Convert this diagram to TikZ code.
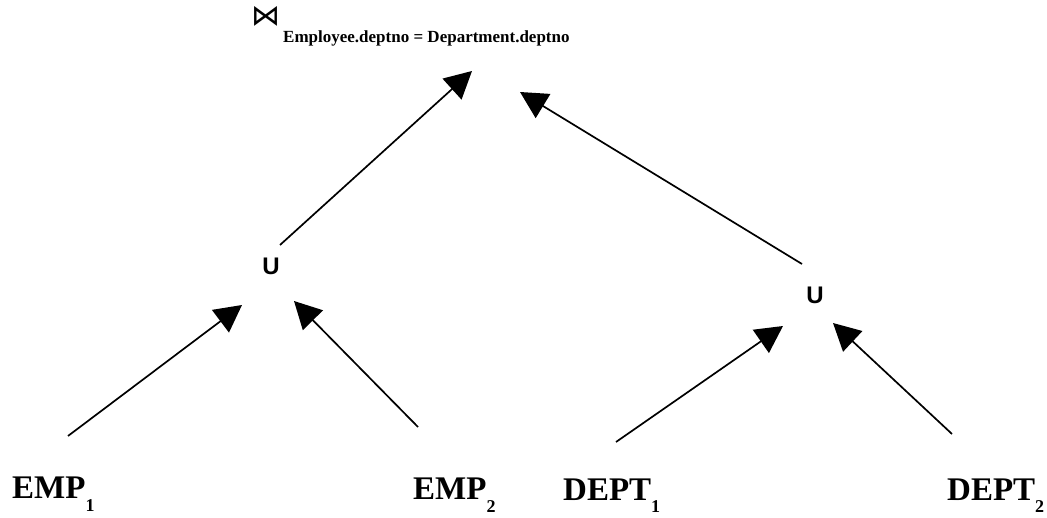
\documentclass[tikz,border=0pt]{standalone}
\usepackage{fontspec}
\setmainfont{Liberation Serif}
\newfontfamily\symfont{DejaVu Sans}
\newfontfamily\opfont{Liberation Sans}
\usetikzlibrary{arrows.meta}
\begin{document}
\begin{tikzpicture}[x=1pt,y=-1pt,
  leaf/.style={inner sep=0pt,anchor=base west,font=\fontsize{33}{33}\selectfont\bfseries},
  unionop/.style={inner sep=0pt,font=\opfont\fontsize{24}{24}\selectfont\bfseries},
  edge/.style={line width=1.7pt,-{Triangle[length=27pt,width=28pt]}}]
\useasboundingbox (0,0) rectangle (1047,518);
\newcommand{\lowidx}[1]{\raisebox{-13pt}{\fontsize{18}{18}\selectfont #1}}

% join operator and its condition
\node[inner sep=0pt,anchor=base west,font=\symfont\fontsize{29}{29}\selectfont] (join) at (251,26) {⋈};
\node[inner sep=0pt,anchor=base west,font=\fontsize{17}{17}\selectfont\bfseries] (cond) at (283,43) {Employee.deptno = Department.deptno};

% union operators
\node[unionop] (u1) at (271,266.5) {U};
\node[unionop] (u2) at (815,295) {U};

% fragments
\node[leaf] (emp1) at (12,498) {EMP\lowidx{1}};
\node[leaf] (emp2) at (413,499) {EMP\lowidx{2}};
\node[leaf] (dept1) at (563,500) {DEPT\lowidx{1}};
\node[leaf] (dept2) at (947,500) {DEPT\lowidx{2}};

% arrow end points
\coordinate (u1out) at (280,245);
\coordinate (u2out) at (802,264);
\coordinate (joinin1) at (472,71);
\coordinate (joinin2) at (520,92);
\coordinate (emp1out) at (68,436);
\coordinate (emp2out) at (418,427);
\coordinate (dept1out) at (616,442);
\coordinate (dept2out) at (952,434);
\coordinate (u1in1) at (242,305);
\coordinate (u1in2) at (294,301);
\coordinate (u2in1) at (783,326);
\coordinate (u2in2) at (833,323);

% connectors
\draw[edge] (u1out) -- (joinin1);
\draw[edge] (u2out) -- (joinin2);
\draw[edge] (emp1out) -- (u1in1);
\draw[edge] (emp2out) -- (u1in2);
\draw[edge] (dept1out) -- (u2in1);
\draw[edge] (dept2out) -- (u2in2);
\end{tikzpicture}
\end{document}
